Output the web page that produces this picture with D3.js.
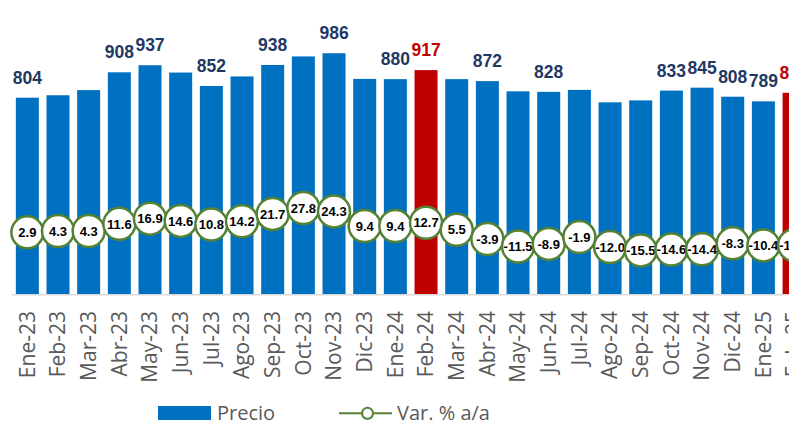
<!DOCTYPE html>
<html>
<head>
<meta charset="utf-8">
<script src="https://cdn.jsdelivr.net/npm/d3@7"></script>
<style>
  body { margin: 0; background: #fff; }
  svg { display: block; }
</style>
</head>
<body>
<div id="chart"></div>
<script>
let width = 789;
let height = 425;

// months on the x axis
const months = ["Ene-23","Feb-23","Mar-23","Abr-23","May-23","Jun-23","Jul-23","Ago-23","Sep-23","Oct-23","Nov-23","Dic-23",
  "Ene-24","Feb-24","Mar-24","Abr-24","May-24","Jun-24","Jul-24","Ago-24","Sep-24","Oct-24","Nov-24","Dic-24",
  "Ene-25","Feb-25"];
// precio (bars)
const precio = [804, 814, 835, 908, 937, 907, 852, 891, 938, 973, 986, 881,
  880, 917, 880, 872, 830, 828, 836, 785, 793, 833, 845, 808,
  789, 824];
// var. % a/a (circles)
const variacion = [2.9, 4.3, 4.3, 11.6, 16.9, 14.6, 10.8, 14.2, 21.7, 27.8, 24.3, 9.4,
  9.4, 12.7, 5.5, -3.9, -11.5, -8.9, -1.9, -12.0, -15.5, -14.6, -14.4, -8.3,
  -10.4, -10.1];
// which bars carry a value label, and which are highlighted
const labelled = ["Ene-23","Abr-23","May-23","Jul-23","Sep-23","Nov-23","Ene-24","Feb-24","Abr-24","Jun-24",
  "Oct-24","Nov-24","Dic-24","Ene-25","Feb-25"];
const highlighted = ["Feb-24","Feb-25"];

const blue = "#0070C0", red = "#C00000", navy = "#1F3864", green = "#548235";

const rows = months.map((m, i) => ({ mes: m, precio: precio[i], variacion: variacion[i] }));

let svg = d3.select("#chart").append("svg")
  .attr("width", width)
  .attr("height", height);

let baseY = 294;

let x = d3.scaleBand()
  .domain(months)
  .range([12, 809.4])
  .paddingInner(0.25)
  .paddingOuter(0.125);

let y = d3.scaleLinear().domain([0, 1200]).range([baseY, 1]);
let y2 = d3.scaleLinear().domain([-60, 240]).range([baseY, 0]);

// bars
svg.append("g")
  .selectAll("rect")
  .data(rows)
  .enter().append("rect")
    .attr("x", d => x(d.mes))
    .attr("y", d => y(d.precio))
    .attr("width", x.bandwidth())
    .attr("height", d => baseY - y(d.precio))
    .attr("fill", d => highlighted.includes(d.mes) ? red : blue);

// axis line
svg.append("line")
  .attr("x1", 12).attr("x2", width)
  .attr("y1", baseY + 0.8).attr("y2", baseY + 0.8)
  .attr("stroke", "#D9D9D9")
  .attr("stroke-width", 1.6);

// x axis labels (rotated)
let xAxis = d3.axisBottom(x).tickSize(0).tickPadding(0);
let gx = svg.append("g")
  .attr("transform", `translate(0,${baseY})`)
  .call(xAxis);
gx.select(".domain").remove();
gx.selectAll("text")
  .attr("transform", "rotate(-90)")
  .attr("x", -17)
  .attr("y", 0)
  .attr("dy", "0.35em")
  .attr("text-anchor", "end")
  .attr("fill", "#595959")
  .style("font-family", "'Open Sans', sans-serif")
  .style("font-size", "21px");

// bar value labels
svg.append("g")
  .selectAll("text")
  .data(rows.filter(d => labelled.includes(d.mes)))
  .enter().append("text")
    .attr("x", d => x(d.mes) + x.bandwidth() / 2)
    .attr("y", d => y(d.precio) - 14)
    .attr("text-anchor", "middle")
    .attr("fill", d => highlighted.includes(d.mes) ? red : navy)
    .style("font-family", "'Liberation Sans', Arial, sans-serif")
    .style("font-weight", "bold")
    .style("font-size", "17.5px")
    .text(d => d.precio);

// variation line + circles
let cx = d => x(d.mes) + x.bandwidth() / 2;
let line = d3.line().x(cx).y(d => y2(d.variacion));

svg.append("path")
  .datum(rows)
  .attr("d", line)
  .attr("fill", "none")
  .attr("stroke", green)
  .attr("stroke-width", 2);

let dots = svg.append("g")
  .selectAll("g")
  .data(rows)
  .enter().append("g")
    .attr("transform", d => `translate(${cx(d)},${y2(d.variacion)})`);

dots.append("circle")
  .attr("r", 16)
  .attr("fill", "#fff")
  .attr("stroke", green)
  .attr("stroke-width", 2.5);

dots.append("text")
  .attr("text-anchor", "middle")
  .attr("dy", "0.36em")
  .attr("fill", "#000")
  .style("font-family", "'Liberation Sans', Arial, sans-serif")
  .style("font-weight", "bold")
  .style("font-size", "13px")
  .text(d => d.variacion.toFixed(1));

// legend
let legend = svg.append("g");
legend.append("rect")
  .attr("x", 158).attr("y", 406)
  .attr("width", 53).attr("height", 14)
  .attr("fill", blue);
legend.append("text")
  .attr("x", 217).attr("y", 419.5)
  .attr("fill", "#595959")
  .style("font-family", "'Open Sans', sans-serif")
  .style("font-size", "20px")
  .text("Precio");
legend.append("line")
  .attr("x1", 339).attr("x2", 392)
  .attr("y1", 413.3).attr("y2", 413.3)
  .attr("stroke", green)
  .attr("stroke-width", 2);
legend.append("circle")
  .attr("cx", 367.5).attr("cy", 413.3)
  .attr("r", 5.5)
  .attr("fill", "#fff")
  .attr("stroke", green)
  .attr("stroke-width", 2);
legend.append("text")
  .attr("x", 397).attr("y", 419.5)
  .attr("fill", "#595959")
  .style("font-family", "'Open Sans', sans-serif")
  .style("font-size", "20px")
  .text("Var. % a/a");
</script>
</body>
</html>
